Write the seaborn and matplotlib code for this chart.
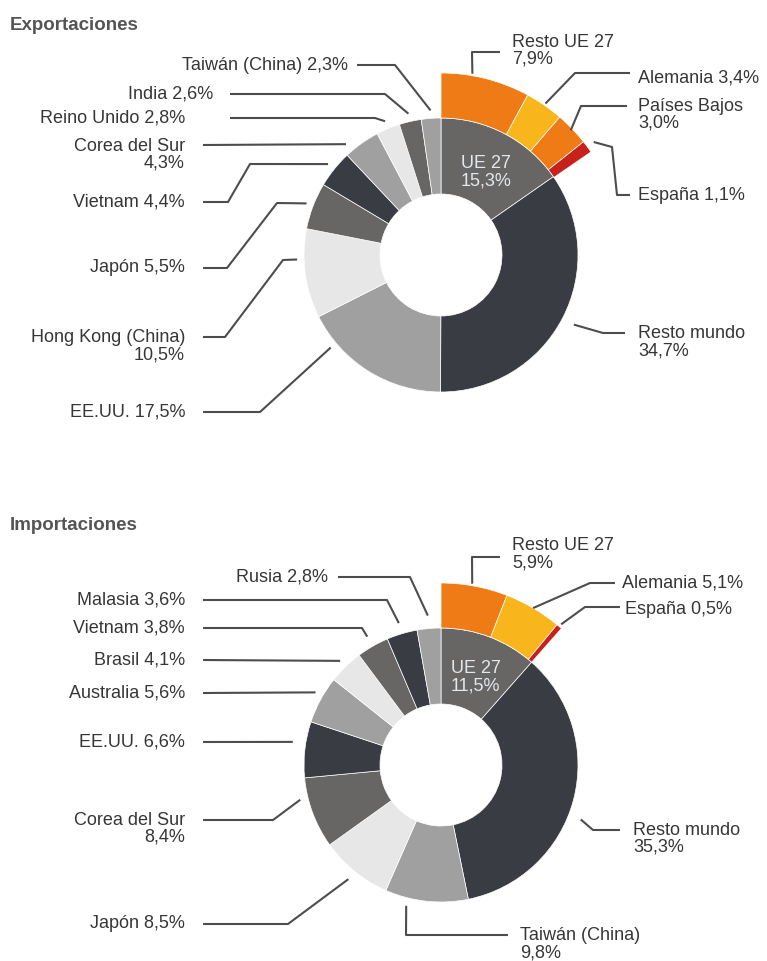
import numpy as np
import matplotlib
matplotlib.use("Agg")
import matplotlib.pyplot as plt
import seaborn as sns

sns.set_theme(style="white")
plt.rcParams["font.family"] = ["Liberation Sans", "DejaVu Sans"]

W, H = 767, 961

# --- data -----------------------------------------------------------------
exp_names = ["UE 27", "Resto mundo", "EE.UU.", "Hong Kong (China)", "Japón", "Vietnam",
             "Corea del Sur", "Reino Unido", "India", "Taiwán (China)"]
exp_values = [15.3, 34.7, 17.5, 10.5, 5.5, 4.4, 4.3, 2.8, 2.6, 2.3]
exp_eu_names = ["Resto UE 27", "Alemania", "Países Bajos", "España"]
exp_eu_values = [7.9, 3.4, 3.0, 1.1]

imp_names = ["UE 27", "Resto mundo", "Taiwán (China)", "Japón", "Corea del Sur", "EE.UU.",
             "Australia", "Brasil", "Vietnam", "Malasia", "Rusia"]
imp_values = [11.5, 35.3, 9.8, 8.5, 8.4, 6.6, 5.6, 4.1, 3.8, 3.6, 2.8]
imp_eu_names = ["Resto UE 27", "Alemania", "España"]
imp_eu_values = [5.9, 5.1, 0.5]

# --- styles ---------------------------------------------------------------
grey = {"g": "#676664", "d": "#393c42", "m": "#a0a0a0", "l": "#e8e7e8"}
exp_colors = [grey[k] for k in "gdmlgdmlgm"]
imp_colors = [grey[k] for k in "gdmlgdmlgdm"]
orange, yellow, red = "#ee7b16", "#f9b61c", "#c8201a"
exp_eu_colors = [orange, yellow, orange, red]
imp_eu_colors = [orange, yellow, red]

TXT = "#363636"
LINE = "#4d4d4d"
FS = 13
CX = 441
R_IN, R_MID, R_OUT = 61, 137, 182

# label layout (pixel coords, y down): text anchor, alignment, leader points,
# position inside the wedge and radius where the leader ends
exp_layout = {
    "Resto mundo": dict(t=(638, 342), ha="left", pts=[(625, 333), (603, 333)], frac=0.5, r=150),
    "EE.UU.": dict(t=(185, 412), ha="right", pts=[(203, 412), (260, 412)], frac=0.79, r=144),
    "Hong Kong (China)": dict(t=(185, 346), ha="right", pts=[(203, 337), (225, 337), (283, 260)], frac=0.66, r=144),
    "Japón": dict(t=(185, 268), ha="right", pts=[(203, 268), (227, 268), (277, 203)], frac=0.5, r=144),
    "Vietnam": dict(t=(185, 202), ha="right", pts=[(203, 202), (228, 202), (250, 164)], frac=0.5, r=145),
    "Corea del Sur": dict(t=(185, 155), ha="right", pts=[(203, 145)], frac=0.17, r=146),
    "Reino Unido": dict(t=(185, 118), ha="right", pts=[(230, 118), (375, 118)], frac=0.5, r=145),
    "India": dict(t=(213, 94), ha="right", pts=[(230, 94), (385, 94)], frac=0.5, r=145),
    "Taiwán (China)": dict(t=(348, 65), ha="right", pts=[(357, 65), (395, 65)], frac=0.5, r=145),
    "Resto UE 27": dict(t=(512, 51), ha="left", pts=[(500, 52), (472, 52)], frac=0.345, r=184),
    "Alemania": dict(t=(638, 78), ha="left", pts=[(630, 73), (575, 73)], frac=0.5, r=184),
    "Países Bajos": dict(t=(638, 115), ha="left", pts=[(627, 106), (581, 106)], frac=0.5, r=180),
    "España": dict(t=(638, 195), ha="left", pts=[(630, 195), (617, 195), (612, 147)], frac=0.5, r=190),
}
imp_layout = {
    "Resto mundo": dict(t=(633, 839), ha="left", pts=[(620, 830), (593, 830)], frac=0.55, r=150),
    "Taiwán (China)": dict(t=(520, 944), ha="left", pts=[(508, 935), (406, 935)], frac=0.72, r=145),
    "Japón": dict(t=(185, 924), ha="right", pts=[(203, 924), (288, 924)], frac=0.5, r=147),
    "Corea del Sur": dict(t=(185, 829), ha="right", pts=[(203, 820), (273, 820)], frac=0.72, r=145),
    "EE.UU.": dict(t=(185, 742), ha="right", pts=[(203, 742)], frac=0.6, r=150),
    "Australia": dict(t=(185, 693), ha="right", pts=[(203, 693)], frac=0.58, r=145),
    "Brasil": dict(t=(185, 660), ha="right", pts=[(203, 660)], frac=0.5, r=145),
    "Vietnam": dict(t=(185, 628), ha="right", pts=[(203, 628), (362, 628)], frac=0.5, r=148),
    "Malasia": dict(t=(185, 600), ha="right", pts=[(203, 600), (387, 600)], frac=0.5, r=148),
    "Rusia": dict(t=(328, 577), ha="right", pts=[(338, 577), (410, 577)], frac=0.5, r=150),
    "Resto UE 27": dict(t=(512, 554), ha="left", pts=[(500, 557), (472, 557)], frac=0.46, r=184),
    "Alemania": dict(t=(622, 583), ha="left", pts=[(615, 583), (590, 583)], frac=0.5, r=182),
    "España": dict(t=(625, 610), ha="left", pts=[(620, 607), (585, 607)], frac=0.5, r=185),
}
wrapped = {"Corea del Sur", "Hong Kong (China)", "Resto mundo", "Resto UE 27", "Países Bajos"}


def pct(v):
    return f"{v:.1f}".replace(".", ",") + "%"


def leader(ax, cy, start_deg, span, spec):
    theta = np.radians(start_deg + spec["frac"] * span)
    ex = CX + spec["r"] * np.sin(theta)
    ey = cy + spec["r"] * np.cos(theta)
    xs = [p[0] for p in spec["pts"]] + [ex]
    ys = [H - p[1] for p in spec["pts"]] + [ey]
    ax.plot(xs, ys, color=LINE, lw=1.5, solid_capstyle="butt", zorder=1)


def label(ax, name, value, spec, wrap_names):
    sep = "\n" if name in wrap_names else " "
    tx, ty = spec["t"]
    ax.text(tx, H - ty, name + sep + pct(value), ha=spec["ha"], va="center",
            multialignment=spec["ha"], fontsize=FS, color=TXT, linespacing=1.0)


def donut(ax, cy_px, names, values, colors, eu_names, eu_values, eu_colors,
          layout, wrap_names, title, title_y):
    cy = H - cy_px
    total = sum(values)
    ax.pie(values, colors=colors, startangle=90, counterclock=False,
           radius=R_MID, center=(CX, cy),
           wedgeprops=dict(width=R_MID - R_IN, edgecolor="white", linewidth=0.5))
    eu_frac = [v / total for v in eu_values]
    eu_all = eu_frac + [max(0.0, 1 - sum(eu_frac))]
    wedges, _ = ax.pie(eu_all, colors=eu_colors + ["none"], startangle=90,
                       counterclock=False, normalize=False, radius=R_OUT,
                       center=(CX, cy),
                       wedgeprops=dict(width=R_OUT - R_MID, edgecolor="white", linewidth=0.5))
    wedges[-1].set_edgecolor("none")

    cum = 0.0
    for name, v in zip(names, values):
        span = 360 * v / total
        if name in layout:
            leader(ax, cy, 360 * cum / total, span, layout[name])
            label(ax, name, v, layout[name], wrap_names)
        elif name == "UE 27":
            th = np.radians(360 * (cum + v / 2) / total)
            ax.text(CX + 98 * np.sin(th), cy + 98 * np.cos(th) - 4,
                    name + "\n" + pct(v), ha="center", va="center",
                    fontsize=FS, color="#e2e8ee", linespacing=1.0)
        cum += v
    cum = 0.0
    for name, f in zip(eu_names, eu_frac):
        leader(ax, cy, 360 * cum, 360 * f, layout[name])
        label(ax, name, f * total, layout[name], wrap_names)
        cum += f

    ax.text(10, H - title_y, title, fontsize=13.5, fontweight="bold",
            color="#555555", va="center", ha="left")


fig = plt.figure(figsize=(W / 100, H / 100), dpi=100)
ax = fig.add_axes([0, 0, 1, 1])

donut(ax, 255, exp_names, exp_values, exp_colors, exp_eu_names, exp_eu_values,
      exp_eu_colors, exp_layout, wrapped, "Exportaciones", 25)
donut(ax, 765, imp_names, imp_values, imp_colors, imp_eu_names, imp_eu_values,
      imp_eu_colors, imp_layout, wrapped | {"Taiwán (China)"}, "Importaciones", 525)

ax.set_xlim(0, W)
ax.set_ylim(0, H)
ax.set_aspect("equal")
ax.axis("off")

fig.savefig("out.png", dpi=100, facecolor="white")
